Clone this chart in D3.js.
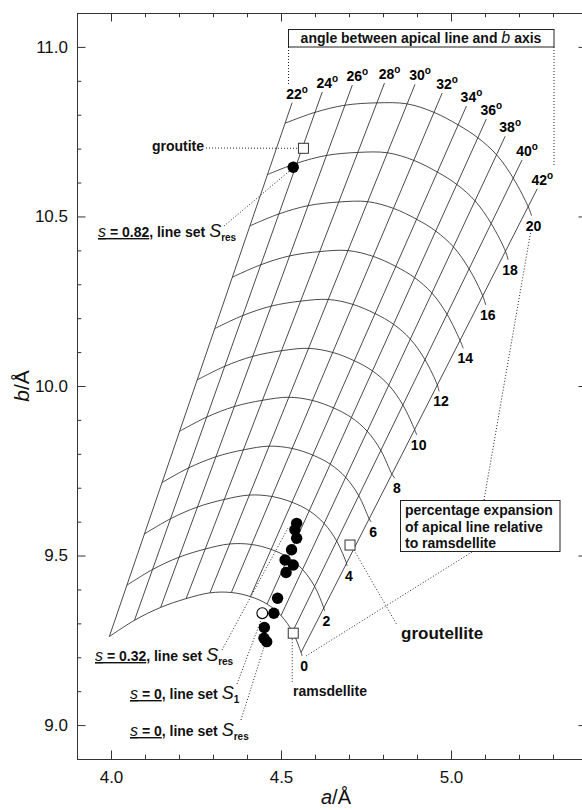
<!DOCTYPE html>
<html>
<head>
<meta charset="utf-8">
<script src="https://cdn.jsdelivr.net/npm/d3@7"></script>
<style>
  body { margin: 0; background: #fff; }
  svg { display: block; font-family: "Liberation Sans", Arial, sans-serif; }
</style>
</head>
<body>
<svg id="chart" width="582" height="810"></svg>
<script>
// grid: lines of constant angle, curves of constant % expansion
const angles = [22, 24, 26, 28, 30, 32, 34, 36, 38, 40, 42];
const expansions = [0, 2, 4, 6, 8, 10, 12, 14, 16, 18, 20];
// node of each angle line at 0 % and at 20 % expansion (a, b in Å)
const at0A  = [3.995, 4.069, 4.146, 4.221, 4.291, 4.354, 4.410, 4.459, 4.500, 4.534, 4.559];
const at0B  = [9.261, 9.309, 9.347, 9.373, 9.390, 9.391, 9.379, 9.357, 9.323, 9.275, 9.214];
const at20A = [4.512, 4.600, 4.688, 4.782, 4.871, 4.950, 5.021, 5.079, 5.134, 5.183, 5.227];
const at20B = [10.775, 10.807, 10.828, 10.835, 10.832, 10.807, 10.770, 10.732, 10.682, 10.613, 10.529];
// where each expansion curve stops, just past the 42° line
const endA = [4.562, 4.628, 4.694, 4.765, 4.835, 4.899, 4.965, 5.036, 5.102, 5.168, 5.237];
const endB = [9.204, 9.337, 9.469, 9.599, 9.728, 9.856, 9.984, 10.111, 10.239, 10.372, 10.502];
const lineTop = 20.8; // angle lines run a little past 20 %

// measured structures
const filledA = [4.546, 4.541, 4.546, 4.531, 4.512, 4.536, 4.515, 4.490, 4.479, 4.451, 4.450, 4.458, 4.536];
const filledB = [9.595, 9.576, 9.551, 9.517, 9.487, 9.472, 9.450, 9.374, 9.330, 9.288, 9.256, 9.246, 10.645];
const openA = [4.445];
const openB = [9.330];
const minerals = ["groutite", "ramsdellite", "groutellite"];
const mineralA = [4.566, 4.536, 4.703];
const mineralB = [10.701, 9.271, 9.531];

const xTicks = [4.0, 4.5, 5.0];
const yTicks = [9.0, 9.5, 10.0, 10.5, 11.0];

const svg = d3.select("#chart");
const x = d3.scaleLinear().domain([3.9, 5.4]).range([77, 587]);
const y = d3.scaleLinear().domain([8.9, 11.1]).range([759, 13]);

const minorX = d3.range(39, 55).map(d => d / 10).filter(d => !xTicks.includes(d));
const minorY = d3.range(89, 112).map(d => d / 10).filter(d => !yTicks.includes(d));

function axisGroup(axis, tx, ty) {
  const g = svg.append("g").attr("transform", `translate(${tx},${ty})`).call(axis);
  g.select(".domain").attr("stroke", "#333");
  g.selectAll(".tick line").attr("stroke", "#333");
  g.selectAll("text").attr("font-size", 17).attr("font-family", "Liberation Sans, Arial, sans-serif").attr("fill", "#111");
  return g;
}
const fmt = d3.format(".1f");
axisGroup(d3.axisBottom(x).tickValues(xTicks).tickFormat(fmt).tickSizeInner(-8.5).tickSizeOuter(0).tickPadding(12), 0, 759);
axisGroup(d3.axisBottom(x).tickValues(minorX).tickFormat("").tickSizeInner(-4.3).tickSizeOuter(0), 0, 759);
axisGroup(d3.axisTop(x).tickValues(xTicks).tickFormat("").tickSizeInner(-8.5).tickSizeOuter(0), 0, 13);
axisGroup(d3.axisTop(x).tickValues(minorX).tickFormat("").tickSizeInner(-4.3).tickSizeOuter(0), 0, 13);
axisGroup(d3.axisLeft(y).tickValues(yTicks).tickFormat(fmt).tickSizeInner(-8.5).tickSizeOuter(0).tickPadding(9), 77, 0);
axisGroup(d3.axisLeft(y).tickValues(minorY).tickFormat("").tickSizeInner(-4.3).tickSizeOuter(0), 77, 0);
axisGroup(d3.axisRight(y).tickValues(yTicks).tickFormat("").tickSizeInner(-8.5).tickSizeOuter(0), 587, 0);
axisGroup(d3.axisRight(y).tickValues(minorY).tickFormat("").tickSizeInner(-4.3).tickSizeOuter(0), 587, 0);

// one pair of scales per angle line: % expansion -> a, b
const alongA = angles.map((d, i) => d3.scaleLinear().domain([0, 20]).range([at0A[i], at20A[i]]));
const alongB = angles.map((d, i) => d3.scaleLinear().domain([0, 20]).range([at0B[i], at20B[i]]));
const node = (i, p) => [alongA[i](p), alongB[i](p)];

const grid = svg.append("g").attr("fill", "none").attr("stroke", "#2a2a2a").attr("stroke-width", 0.85);
const path = d3.line().x(d => x(d[0])).y(d => y(d[1]));
const smooth = d3.line().x(d => x(d[0])).y(d => y(d[1])).curve(d3.curveCatmullRom.alpha(0.5));

angles.forEach((d, i) => {
  grid.append("path").attr("d", path([node(i, 0), node(i, lineTop)]));
});
expansions.forEach((p, k) => {
  const pts = angles.map((d, i) => node(i, p));
  pts.push([endA[k], endB[k]]);
  grid.append("path").attr("d", smooth(pts));
});

// labels of the grid
const bold = "bold";
angles.forEach((d, i) => {
  const [a, b] = node(i, lineTop);
  const t = svg.append("text").attr("x", x(a) + 5).attr("y", y(b) - 4)
    .attr("text-anchor", "middle").attr("font-size", 14).attr("font-weight", bold);
  t.append("tspan").text(d);
  t.append("tspan").attr("font-size", 10).attr("dy", -6).text("o");
});
expansions.forEach((p, k) => {
  svg.append("text").attr("x", x(endA[k]) + 2).attr("y", y(endB[k]) + 15)
    .attr("text-anchor", "middle").attr("font-size", 14).attr("font-weight", bold).text(p);
});

// dotted leaders and boxes
const dotted = svg.append("g").attr("fill", "none").attr("stroke", "#222")
  .attr("stroke-width", 1).attr("stroke-dasharray", "1,2");
function leader(x1, y1, x2, y2) {
  dotted.append("line").attr("x1", x1).attr("y1", y1).attr("x2", x2).attr("y2", y2);
}
leader(288.5, 47, 288.5, 84);
leader(554, 47, 554, 166);
leader(206, 148, x(mineralA[0]) - 5, y(mineralB[0]));
leader(224, 226, x(filledA[12]) - 3, y(filledB[12]) + 3);
leader(222, 650, 288, 528);
leader(237, 684, x(openA[0]) - 1, y(openB[0]) + 6);
leader(241, 720, 264, 647);
leader(484, 500, 531, 230);
leader(472, 552, 306, 656);
leader(x(mineralA[2]) + 4, y(mineralB[2]) + 5, 397, 625);
leader(x(mineralA[1]) - 1, y(mineralB[1]) + 6, x(mineralA[1]) - 1, 682);

svg.append("rect").attr("x", 288.5).attr("y", 29.5).attr("width", 265.5).attr("height", 17.5)
  .attr("fill", "#fff").attr("stroke", "#222").attr("stroke-width", 1);
svg.append("rect").attr("x", 400.5).attr("y", 500.5).attr("width", 159.5).attr("height", 51)
  .attr("fill", "#fff").attr("stroke", "#222").attr("stroke-width", 1);

// points
svg.append("g").selectAll("circle").data(filledA).join("circle")
  .attr("cx", d => x(d)).attr("cy", (d, i) => y(filledB[i])).attr("r", 5.7).attr("fill", "#000");
svg.append("g").selectAll("circle").data(openA).join("circle")
  .attr("cx", d => x(d)).attr("cy", (d, i) => y(openB[i])).attr("r", 5.4)
  .attr("fill", "#fff").attr("stroke", "#000").attr("stroke-width", 1.1);
svg.append("g").selectAll("rect").data(mineralA).join("rect")
  .attr("x", d => x(d) - 5).attr("y", (d, i) => y(mineralB[i]) - 5).attr("width", 10).attr("height", 10)
  .attr("fill", "#fff").attr("stroke", "#333").attr("stroke-width", 1);

// rich text helper
function rich(px, py, parts, anchor) {
  const t = svg.append("text").attr("x", px).attr("y", py).attr("text-anchor", anchor || "start").attr("fill", "#111");
  parts.forEach(p => {
    const s = t.append("tspan").text(p.t)
      .attr("font-weight", p.b ? "bold" : "normal")
      .attr("font-style", p.it ? "italic" : "normal")
      .attr("font-size", p.size || 14);
    if (p.dy) s.attr("dy", p.dy);
    if (p.u) s.attr("text-decoration", "underline");
  });
  return t;
}

rich(421, 43, [
  { t: "angle between apical line and ", b: 1 },
  { t: "b", it: 1, size: 16 },
  { t: " axis", b: 1 }
], "middle");
rich(405, 515, [{ t: "percentage expansion", b: 1 }]);
rich(405, 531.5, [{ t: "of apical line relative", b: 1 }]);
rich(405, 547.5, [{ t: "to ramsdellite", b: 1 }]);

rich(204, 151, [{ t: minerals[0], b: 1 }], "end");
rich(293, 695.5, [{ t: minerals[1], b: 1 }]);
rich(401, 639, [{ t: minerals[2], b: 1, size: 17 }]);

function sLabel(px, py, sval, setName, sub) {
  rich(px, py, [
    { t: "s", it: 1, size: 16, u: 1 },
    { t: " = " + sval, b: 1, u: 1 },
    { t: ", line set ", b: 1 },
    { t: setName, it: 1, size: 18 },
    { t: sub, b: 1, size: 10, dy: 4 }
  ]);
}
sLabel(98, 237, "0.82", "S", "res");
sLabel(95, 661, "0.32", "S", "res");
sLabel(130, 699, "0", "S", "1");
sLabel(130, 736, "0", "S", "res");

// axis titles
const yt = svg.append("text").attr("transform", "translate(29,386) rotate(-90)")
  .attr("text-anchor", "middle").attr("font-size", 21).attr("fill", "#111");
yt.append("tspan").attr("font-style", "italic").text("b");
yt.append("tspan").text("/Å");
const xt = svg.append("text").attr("x", 336).attr("y", 804)
  .attr("text-anchor", "middle").attr("font-size", 20).attr("fill", "#111");
xt.append("tspan").attr("font-style", "italic").text("a");
xt.append("tspan").text("/Å");
</script>
</body>
</html>
